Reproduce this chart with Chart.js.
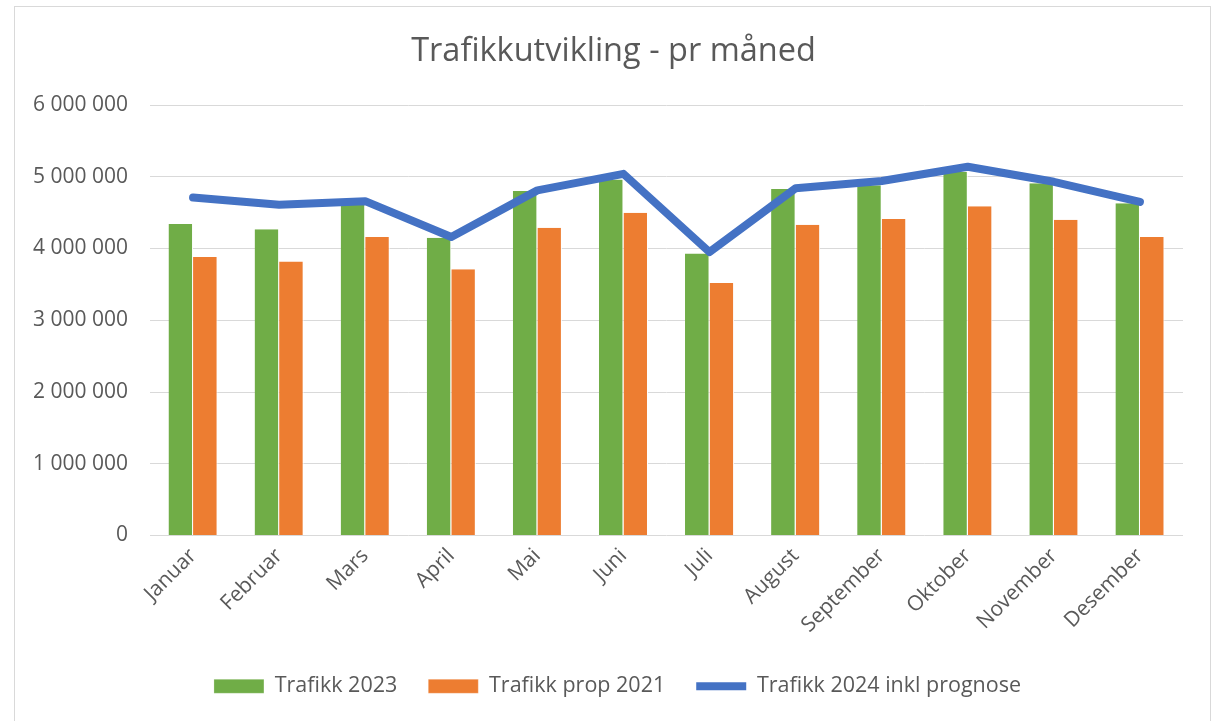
<!DOCTYPE html>
<html>
<head>
<meta charset="utf-8">
<script src="https://cdn.jsdelivr.net/npm/chart.js@4"></script>
<style>
  html, body { margin: 0; padding: 0; background: #fff; }
  #wrap { position: relative; width: 1217px; height: 721px; overflow: hidden; }
  #frame { position: absolute; left: 14px; top: 6px; width: 1197px; height: 740px; border: 1px solid #d9d9d9; box-sizing: border-box; }
  canvas { position: absolute; left: 0; top: 0; }
</style>
</head>
<body>
<div id="wrap">
  <div id="frame"></div>
  <canvas id="c" width="1217" height="721"></canvas>
</div>
<script>
const months = ['Januar','Februar','Mars','April','Mai','Juni','Juli','August','September','Oktober','November','Desember'];
const trafikk2023 = [4340000, 4270000, 4620000, 4150000, 4800000, 4960000, 3930000, 4830000, 4880000, 5070000, 4910000, 4630000];
const trafikkProp2021 = [3880000, 3820000, 4160000, 3710000, 4290000, 4500000, 3520000, 4330000, 4410000, 4590000, 4400000, 4160000];
const trafikk2024 = [4710000, 4610000, 4660000, 4160000, 4810000, 5040000, 3950000, 4840000, 4940000, 5140000, 4930000, 4650000];
const yTickValues = [0, 1000000, 2000000, 3000000, 4000000, 5000000, 6000000];
const seriesNames = ['Trafikk 2023', 'Trafikk prop 2021', 'Trafikk 2024 inkl prognose'];
const titleText = 'Trafikkutvikling - pr måned';

const FONT = "'Open Sans', 'Noto Sans', sans-serif";
const TXT = '#595959';
const fmt = v => String(v).replace(/\B(?=(\d{3})+(?!\d))/g, ' ');

const shiftBlocks = {
  id: 'shiftBlocks',
  afterLayout(chart) {
    const lg = chart.legend;
    if (lg) { lg.left += 26; lg.right += 26; }
    const tb = chart.titleBlock;
    if (tb) { tb.left += 22; tb.right += 22; }
  }
};

new Chart(document.getElementById('c'), {
  data: {
    labels: months,
    datasets: [
      { type: 'bar', label: seriesNames[0], data: trafikk2023, backgroundColor: '#70AD47', borderColor: '#ffffff', borderWidth: {left:0, right:1, top:0, bottom:0}, order: 1, pointStyle: 'rect' },
      { type: 'bar', label: seriesNames[1], data: trafikkProp2021, backgroundColor: '#ED7D31', borderColor: '#ffffff', borderWidth: {left:0, right:1, top:0, bottom:0}, order: 1, pointStyle: 'rect' },
      { type: 'line', label: seriesNames[2], data: trafikk2024, borderColor: '#4472C4', backgroundColor: '#4472C4', borderWidth: 8, borderCapStyle: 'round', borderJoinStyle: 'round', pointRadius: 0, pointHoverRadius: 0, tension: 0, order: 0, pointStyle: 'line' }
    ]
  },
  plugins: [shiftBlocks],
  options: {
    responsive: false,
    animation: false,
    devicePixelRatio: 1,
    layout: { padding: { left: 0, right: 34, top: 0, bottom: 14 } },
    datasets: { bar: { categoryPercentage: 0.57, barPercentage: 1.0 } },
    plugins: {
      title: { display: true, text: titleText, color: TXT, font: { family: FONT, size: 32.5, weight: 'normal' }, padding: { top: 32, bottom: 34 } },
      legend: {
        position: 'bottom',
        labels: {
          usePointStyle: true, pointStyleWidth: 50, boxHeight: 14,
          color: TXT, font: { family: FONT, size: 21.5 }, padding: 31,
          sort: (a, b) => a.datasetIndex - b.datasetIndex
        }
      },
      tooltip: { enabled: false }
    },
    scales: {
      x: {
        grid: { display: false, drawTicks: false },
        border: { display: false },
        ticks: { color: TXT, font: { family: FONT, size: 21 }, minRotation: 45, maxRotation: 45, padding: 8, autoSkip: false },
        afterFit: s => { s.height = 109; }
      },
      y: {
        min: 0, max: 6000000,
        grid: { color: '#d9d9d9', lineWidth: 1, drawTicks: false },
        border: { display: false },
        afterBuildTicks: s => { s.ticks = yTickValues.map(v => ({ value: v })); },
        ticks: { color: TXT, font: { family: FONT, size: 21 }, padding: 22, callback: v => fmt(v) },
        afterFit: s => { s.width = 150; }
      }
    }
  }
});
</script>
</body>
</html>
